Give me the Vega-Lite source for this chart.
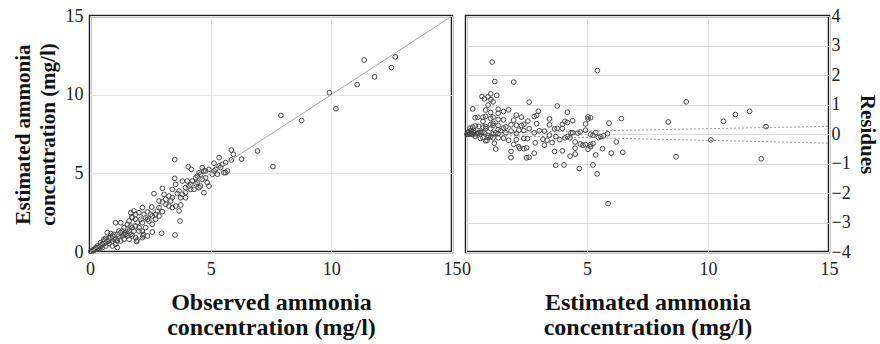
{
"$schema": "https://vega.github.io/schema/vega-lite/v6.json",
"padding": {"left": 10, "top": 5, "right": 0, "bottom": 0},
"bounds": "flush",
"spacing": 14,
"config": {
  "font": "Liberation Serif",
  "view": {"stroke": "#1e1e1e", "strokeWidth": 2.5},
  "axis": {
    "labelFont": "Liberation Serif", "labelFontSize": 18, "labelColor": "#222",
    "titleFont": "Liberation Serif", "titleFontSize": 21, "titleFontWeight": "bold", "titleColor": "#111",
    "ticks": false, "domain": false, "gridColor": "#e6e6e6", "gridWidth": 1,
    "labelFlush": false, "titleLineHeight": 25, "labelOverlap": false
  }
},
"datasets": {
  "pts": [
    {"o":12.65,"e":12.40,"r":0.25},{"o":11.36,"e":12.20,"r":-0.84},{"o":12.49,"e":11.72,"r":0.77},{"o":11.79,"e":11.13,"r":0.66},
    {"o":11.07,"e":10.64,"r":0.43},{"o":9.92,"e":10.12,"r":-0.20},{"o":10.19,"e":9.10,"r":1.09},{"o":7.91,"e":8.68,"r":-0.77},
    {"o":8.77,"e":8.36,"r":0.41},{"o":6.94,"e":6.42,"r":0.52},{"o":6.28,"e":5.91,"r":0.37},{"o":5.86,"e":6.48,"r":-0.62},
    {"o":3.51,"e":5.87,"r":-2.36},{"o":7.58,"e":5.43,"r":2.15},
    {"o":5.94,"e":6.21,"r":-0.27},{"o":5.86,"e":5.85,"r":0.01},{"o":5.62,"e":5.68,"r":-0.06},{"o":5.35,"e":6.00,"r":-0.65},
    {"o":5.70,"e":5.15,"r":0.55},{"o":5.55,"e":5.04,"r":0.51},{"o":5.41,"e":5.36,"r":0.05},{"o":5.14,"e":5.64,"r":-0.50},
    {"o":5.14,"e":5.15,"r":-0.01},{"o":4.93,"e":5.25,"r":-0.32},{"o":4.72,"e":5.15,"r":-0.43},{"o":4.65,"e":4.62,"r":0.03},
    {"o":4.52,"e":5.04,"r":-0.52},{"o":4.45,"e":4.83,"r":-0.38},{"o":4.38,"e":4.34,"r":0.04},{"o":4.17,"e":4.30,"r":-0.13},
    {"o":4.10,"e":4.19,"r":-0.09},{"o":4.93,"e":4.19,"r":0.74},{"o":4.86,"e":4.41,"r":0.45},{"o":4.72,"e":3.77,"r":0.95},
    {"o":4.58,"e":4.19,"r":0.39},{"o":4.45,"e":4.41,"r":0.04},{"o":4.07,"e":5.42,"r":-1.35},{"o":4.20,"e":5.25,"r":-1.05},
    {"o":3.51,"e":4.68,"r":-1.17},{"o":3.55,"e":4.30,"r":-0.75},{"o":3.83,"e":4.51,"r":-0.68},{"o":3.96,"e":4.09,"r":-0.13},
    {"o":3.69,"e":3.88,"r":-0.19},{"o":3.62,"e":3.71,"r":-0.09},{"o":3.41,"e":3.98,"r":-0.57},{"o":3.27,"e":3.56,"r":-0.29},
    {"o":3.07,"e":3.66,"r":-0.59},{"o":3.00,"e":4.05,"r":-1.05},{"o":2.65,"e":3.71,"r":-1.06},{"o":2.86,"e":3.24,"r":-0.38},
    {"o":3.00,"e":3.18,"r":-0.18},{"o":3.14,"e":3.03,"r":0.11},{"o":3.41,"e":2.82,"r":0.59},{"o":3.55,"e":2.92,"r":0.63},
    {"o":3.76,"e":2.99,"r":0.77},{"o":3.69,"e":2.61,"r":1.08},{"o":3.73,"e":1.97,"r":1.76},{"o":3.52,"e":1.08,"r":2.44},
    {"o":2.97,"e":1.19,"r":1.78},{"o":2.58,"e":1.27,"r":1.31},{"o":2.38,"e":2.54,"r":-0.16},{"o":2.56,"e":2.86,"r":-0.30},
    {"o":2.17,"e":2.82,"r":-0.65},{"o":2.79,"e":2.61,"r":0.18},{"o":3.00,"e":2.56,"r":0.44},{"o":2.03,"e":2.50,"r":-0.47},
    {"o":1.82,"e":2.61,"r":-0.79},{"o":1.69,"e":2.50,"r":-0.81},{"o":1.73,"e":2.22,"r":-0.49},{"o":1.89,"e":2.08,"r":-0.19},
    {"o":2.17,"e":1.86,"r":0.31},{"o":2.03,"e":1.55,"r":0.48},{"o":2.21,"e":1.12,"r":1.09},{"o":2.17,"e":0.91,"r":1.26},
    {"o":1.93,"e":0.66,"r":1.27},{"o":1.69,"e":1.12,"r":0.57},{"o":1.48,"e":1.33,"r":0.15},{"o":1.27,"e":1.86,"r":-0.59},
    {"o":1.06,"e":1.86,"r":-0.80},{"o":1.34,"e":1.33,"r":0.01},{"o":1.13,"e":0.70,"r":0.43},{"o":1.13,"e":0.28,"r":0.85},
    {"o":0.93,"e":0.70,"r":0.23},{"o":0.79,"e":0.91,"r":-0.12},{"o":0.72,"e":1.23,"r":-0.51},{"o":0.58,"e":0.81,"r":-0.23},
    {"o":0.44,"e":0.59,"r":-0.15},{"o":0.30,"e":0.38,"r":-0.08},{"o":0.17,"e":0.17,"r":0.00},{"o":0.10,"e":0.11,"r":-0.01},
    {"o":0.23,"e":0.23,"r":0.00},{"o":0.37,"e":0.32,"r":0.05},{"o":0.51,"e":0.49,"r":0.02},{"o":0.65,"e":0.59,"r":0.06},
    {"o":0.86,"e":0.91,"r":-0.05},{"o":0.99,"e":1.12,"r":-0.13},{"o":1.20,"e":1.33,"r":-0.13},{"o":1.41,"e":1.55,"r":-0.14},
    {"o":1.55,"e":1.76,"r":-0.21},{"o":1.62,"e":1.97,"r":-0.35},{"o":1.75,"e":2.18,"r":-0.43},{"o":1.89,"e":2.39,"r":-0.50},
    {"o":1.48,"e":1.12,"r":0.36},{"o":1.62,"e":1.33,"r":0.29},{"o":1.75,"e":1.55,"r":0.20},{"o":1.89,"e":1.65,"r":0.24},
    {"o":1.82,"e":1.33,"r":0.49},{"o":2.03,"e":1.33,"r":0.70},{"o":2.31,"e":1.55,"r":0.76},{"o":2.44,"e":1.97,"r":0.47},
    {"o":2.31,"e":2.18,"r":0.13},{"o":2.51,"e":2.39,"r":0.12},{"o":2.72,"e":2.39,"r":0.33},{"o":2.86,"e":2.82,"r":0.04},
    {"o":3.14,"e":3.35,"r":-0.21},{"o":3.34,"e":3.24,"r":0.10},{"o":3.41,"e":3.45,"r":-0.04},{"o":3.76,"e":3.45,"r":0.31},
    {"o":3.83,"e":3.66,"r":0.17},{"o":3.96,"e":3.77,"r":0.19},{"o":4.17,"e":3.98,"r":0.19},{"o":4.31,"e":3.98,"r":0.33},
    {"o":4.52,"e":4.09,"r":0.43},{"o":4.79,"e":4.72,"r":0.07},{"o":5.07,"e":4.94,"r":0.13},{"o":5.21,"e":5.25,"r":-0.04},
    {"o":5.35,"e":5.47,"r":-0.12},{"o":5.48,"e":5.57,"r":-0.09},{"o":0.93,"e":0.38,"r":0.55},{"o":1.06,"e":0.49,"r":0.57},
    {"o":1.27,"e":0.70,"r":0.57},{"o":1.41,"e":0.81,"r":0.60},{"o":0.37,"e":0.17,"r":0.20},{"o":0.51,"e":0.28,"r":0.23},
    {"o":0.65,"e":0.38,"r":0.27},{"o":0.79,"e":0.53,"r":0.26},{"o":1.20,"e":1.02,"r":0.18},{"o":1.34,"e":1.02,"r":0.32},
    {"o":1.62,"e":0.81,"r":0.81},{"o":1.75,"e":1.02,"r":0.73},{"o":2.17,"e":1.33,"r":0.84},{"o":2.38,"e":1.02,"r":1.36},
    {"o":2.58,"e":1.76,"r":0.82},{"o":2.72,"e":2.08,"r":0.64},{"o":2.86,"e":2.29,"r":0.57},{"o":3.27,"e":2.92,"r":0.35},
    {"o":3.96,"e":3.45,"r":0.51},{"o":4.03,"e":4.51,"r":-0.48},{"o":4.24,"e":4.51,"r":-0.27},{"o":4.38,"e":4.72,"r":-0.34},
    {"o":4.58,"e":4.94,"r":-0.36},{"o":4.65,"e":5.36,"r":-0.71},{"o":4.79,"e":5.15,"r":-0.36},{"o":5.28,"e":4.94,"r":0.34},
    {"o":5.62,"e":5.04,"r":0.58},{"o":0.03,"e":0.04,"r":-0.01},{"o":0.14,"e":0.08,"r":0.06},{"o":0.19,"e":0.17,"r":0.02},
    {"o":0.26,"e":0.28,"r":-0.02},{"o":0.33,"e":0.23,"r":0.10},{"o":0.44,"e":0.32,"r":0.12},{"o":0.58,"e":0.53,"r":0.05},
    {"o":0.72,"e":0.66,"r":0.06},{"o":0.99,"e":0.81,"r":0.18},{"o":1.13,"e":1.12,"r":0.01},{"o":0.86,"e":1.17,"r":-0.31},
    {"o":0.65,"e":0.87,"r":-0.22},{"o":0.17,"e":0.11,"r":0.06},{"o":0.30,"e":0.19,"r":0.11},{"o":0.44,"e":0.44,"r":0.00},
    {"o":0.58,"e":0.70,"r":-0.12},{"o":0.79,"e":0.74,"r":0.05},{"o":0.93,"e":1.02,"r":-0.09},{"o":1.06,"e":0.81,"r":0.25},
    {"o":1.27,"e":1.23,"r":0.04},{"o":1.41,"e":1.12,"r":0.29},{"o":1.55,"e":1.44,"r":0.11},{"o":1.69,"e":1.65,"r":0.04},
    {"o":1.96,"e":1.86,"r":0.10},{"o":2.10,"e":2.08,"r":0.02},{"o":2.24,"e":2.39,"r":-0.15},{"o":2.38,"e":2.08,"r":0.30},
    {"o":2.58,"e":2.29,"r":0.29},{"o":1.55,"e":1.02,"r":0.53},{"o":1.89,"e":0.91,"r":0.98},{"o":1.95,"e":0.76,"r":1.19},
    {"o":2.20,"e":1.03,"r":1.17}
  ],
  "diag": [{"x":0,"y":0},{"x":15,"y":15}],
  "band": [
    {"x":0,"y":0.02,"b":"upper"},{"x":15,"y":0.26,"b":"upper"},
    {"x":0,"y":-0.03,"b":"lower"},{"x":15,"y":-0.31,"b":"lower"}
  ]
},
"hconcat": [
  {
    "width": 362, "height": 236,
    "layer": [
      {
        "data": {"name": "pts"},
        "mark": {"type": "point", "shape": "circle", "filled": false, "size": 22, "stroke": "#484848", "strokeWidth": 1, "opacity": 1},
        "encoding": {
          "x": {"field": "o", "type": "quantitative", "scale": {"domain": [0, 15], "nice": false, "zero": false},
                "axis": {"values": [0,5,10,15], "title": ["Observed ammonia", "concentration  (mg/l)"],
                         "labelFont": "Liberation Serif", "labelFontSize": 18, "titleFont": "Liberation Serif", "titleFontSize": 24,
                         "labelPadding": 8, "titlePadding": 12, "labelFlush": false}},
          "y": {"field": "e", "type": "quantitative", "scale": {"domain": [0, 15], "nice": false, "zero": false},
                "axis": {"values": [0,5,10,15], "title": ["Estimated ammonia", "concentration  (mg/l)"],
                         "labelFont": "Liberation Serif", "labelFontSize": 18, "titleFont": "Liberation Serif", "titleFontSize": 21,
                         "labelPadding": 7, "titlePadding": 7}}
        }
      },
      {
        "data": {"name": "diag"},
        "mark": {"type": "line", "color": "#a8a8a8", "strokeWidth": 1},
        "encoding": {
          "x": {"field": "x", "type": "quantitative"},
          "y": {"field": "y", "type": "quantitative"}
        }
      }
    ]
  },
  {
    "width": 363, "height": 236,
    "layer": [
      {
        "data": {"name": "band"},
        "mark": {"type": "line", "color": "#9a9a9a", "strokeWidth": 1, "strokeDash": [2, 2]},
        "encoding": {
          "x": {"field": "x", "type": "quantitative", "scale": {"domain": [0, 15], "nice": false, "zero": false},
                "axis": {"values": [0,5,10,15], "title": ["Estimated ammonia", "concentration  (mg/l)"],
                         "labelFont": "Liberation Serif", "labelFontSize": 18, "titleFont": "Liberation Serif", "titleFontSize": 24,
                         "labelPadding": 8, "titlePadding": 12, "labelFlush": false}},
          "y": {"field": "y", "type": "quantitative", "scale": {"domain": [-4, 4], "nice": false, "zero": false},
                "axis": {"orient": "right", "values": [-4,-3,-2,-1,0,1,2,3,4], "tickCount": 9, "title": "Residues",
                         "labelFont": "Liberation Serif", "labelFontSize": 18, "titleFont": "Liberation Serif", "titleFontSize": 21,
                         "labelPadding": 2, "titlePadding": 6, "gridColor": "#dcdcdc", "labelOverlap": false}},
          "detail": {"field": "b"}
        }
      },
      {
        "data": {"name": "pts"},
        "mark": {"type": "point", "shape": "circle", "filled": false, "size": 22, "stroke": "#484848", "strokeWidth": 1, "opacity": 1},
        "encoding": {
          "x": {"field": "e", "type": "quantitative"},
          "y": {"field": "r", "type": "quantitative"}
        }
      }
    ]
  }
]
}
